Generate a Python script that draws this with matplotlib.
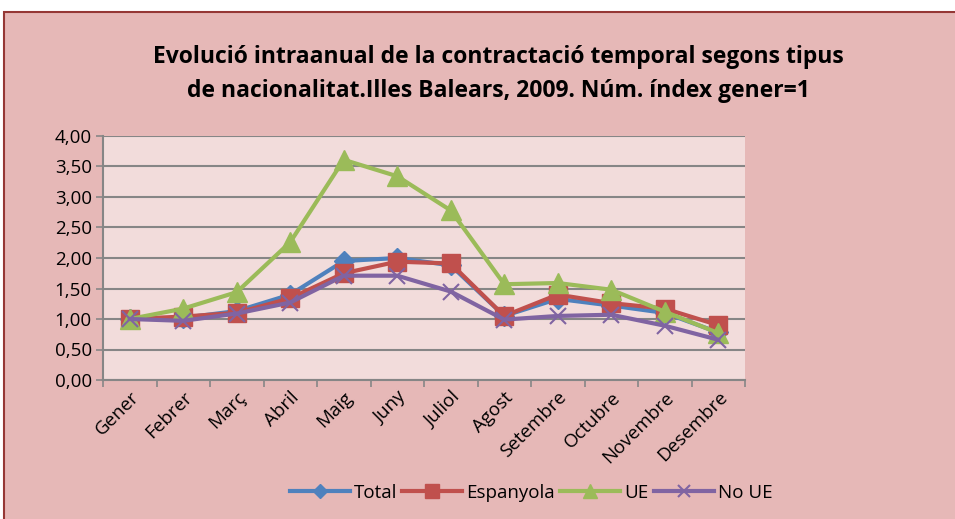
import matplotlib.pyplot as plt
import numpy as np
from matplotlib.patches import Rectangle

plt.rcParams['font.family'] = ['Open Sans', 'DejaVu Sans']

mesos = ['Gener', 'Febrer', 'Març', 'Abril', 'Maig', 'Juny', 'Juliol', 'Agost',
         'Setembre', 'Octubre', 'Novembre', 'Desembre']
total = [1.00, 1.02, 1.13, 1.40, 1.95, 2.00, 1.88, 1.05, 1.33, 1.22, 1.10, 0.78]
espanyola = [1.00, 1.04, 1.10, 1.34, 1.75, 1.94, 1.91, 1.05, 1.40, 1.26, 1.17, 0.90]
ue = [1.00, 1.17, 1.44, 2.26, 3.61, 3.34, 2.78, 1.57, 1.59, 1.48, 1.12, 0.77]
no_ue = [1.00, 0.97, 1.09, 1.27, 1.71, 1.71, 1.45, 0.99, 1.05, 1.07, 0.89, 0.66]

fig = plt.figure(figsize=(9.55, 5.19), dpi=100)
fig.patch.set_facecolor('white')
fig.patches.append(Rectangle((4 / 955, -0.05), 1.0, 1 - 12 / 519 + 0.05,
                             transform=fig.transFigure, facecolor='#E6B8B7',
                             edgecolor='#953735', linewidth=1.5, zorder=-10))

ax = fig.add_axes([103 / 955, 1 - 380 / 519, 642 / 955, 244 / 519])
ax.set_facecolor('#F2DCDB')
x = np.arange(len(mesos))

ax.plot(x, total, color='#4F81BD', lw=3, marker='D', ms=10, label='Total', zorder=3)
ax.plot(x, espanyola, color='#C0504D', lw=3, marker='s', ms=13, label='Espanyola', zorder=4)
ax.plot(x, ue, color='#9BBB59', lw=3, marker='^', ms=14, label='UE', zorder=5)
ax.plot(x, no_ue, color='#8064A2', lw=3, marker='x', ms=11, mew=1.5, label='No UE', zorder=6)

ax.set_xlim(-0.5, 11.5)
ax.set_ylim(0, 4)
ax.set_yticks(np.arange(0, 4.01, 0.5))
ax.set_yticklabels([('%.2f' % v).replace('.', ',') for v in np.arange(0, 4.01, 0.5)],
                   fontsize=13.5)
ax.yaxis.grid(True, color='#868686', lw=1.5)
ax.set_axisbelow(True)

ax.set_xticks(x)
ax.set_xticklabels(mesos, rotation=45, ha='right', rotation_mode='anchor', fontsize=13.5)
ax.tick_params(axis='x', length=0, pad=6)
ax.set_xticks(np.arange(-0.5, 12, 1), minor=True)
ax.tick_params(axis='x', which='minor', length=5, color='#868686', width=1.2)
ax.tick_params(axis='y', length=5, color='#868686', width=1.2, pad=3)

for s in ['top', 'right']:
    ax.spines[s].set_visible(False)
for s in ['left', 'bottom']:
    ax.spines[s].set_color('#868686')
    ax.spines[s].set_linewidth(1.5)

fig.text(0.522, 1 - 74 / 519, 'Evolució intraanual de la contractació temporal segons tipus\n'
         'de nacionalitat.Illes Balears, 2009. Núm. índex gener=1',
         ha='center', va='center', fontsize=16.5, fontweight='bold', linespacing=1.55)

ax.legend(loc='center', bbox_to_anchor=(531 / 955, 1 - 493 / 519), bbox_transform=fig.transFigure,
          ncol=4, frameon=False, fontsize=13.5, handlelength=3.2, handletextpad=0.2,
          columnspacing=0.3, markerscale=0.75)

fig.savefig('out.png', dpi=100)
